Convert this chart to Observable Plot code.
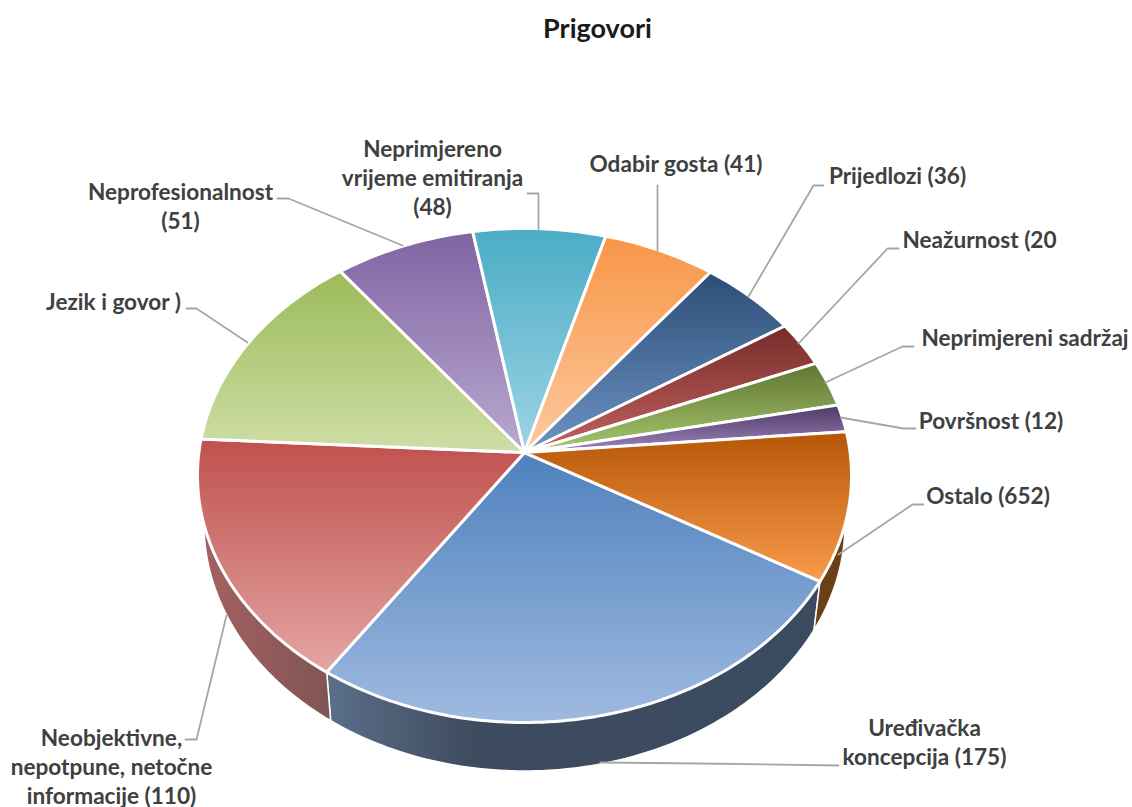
<!DOCTYPE html>
<html><head><meta charset="utf-8">
<script src="https://cdn.jsdelivr.net/npm/d3@7"></script>
<script src="https://cdn.jsdelivr.net/npm/@observablehq/plot@0.6"></script>
<style>
html,body{margin:0;padding:0;background:#fff}
#title{position:absolute;left:0;top:0;width:1195px;height:60px;text-align:center;font:700 27px/55px Lato,sans-serif;color:#1a1a1a}
#chart{position:absolute;left:0;top:60px}
svg{display:block}
</style></head><body>
<div id="title">Prigovori</div>
<div id="chart"></div>
<script>
const categories = ["Uređivačka koncepcija","Neobjektivne, nepotpune, netočne informacije","Jezik i govor","Neprofesionalnost","Neprimjereno vrijeme emitiranja","Odabir gosta","Prijedlozi","Neažurnost","Neprimjereni sadržaj","Površnost","Ostalo"];
const values = [175,110,92,51,48,41,36,20,20,12,65.2];
const topColors = ["#4f81bd","#c0504d","#9bbb59","#8064a2","#4bacc6","#f79646","#2c4d75","#772c2a","#5f7530","#4d3b62","#b65708"];
const bottomColors = ["#9fbae0","#e3a5a3","#cfdea6","#b9a9d0","#9ed4e4","#fdc99f","#6d94c6","#c2625f","#a8c870","#9e84c0","#f99b4b"];
const wallLeft = {"Uređivačka koncepcija":"#5b6f8a","Neobjektivne, nepotpune, netočne informacije":"#a86161","Ostalo":"#6b3f17"};
const wallRight = {"Uređivačka koncepcija":"#3a4b60","Neobjektivne, nepotpune, netočne informacije":"#7f5554","Ostalo":"#6b3f17"};
const labelTexts = ["Uređivačka\nkoncepcija (175)","Neobjektivne,\nnepotpune, netočne\ninformacije (110)","Jezik i govor )","Neprofesionalnost\n(51)","Neprimjereno\nvrijeme emitiranja\n(48)","Odabir gosta (41)","Prijedlozi (36)","Neažurnost (20","Neprimjereni sadržaj","Površnost (12)","Ostalo (652)"];
const labelX = [924,111,113,180,432,675.5,897,979,1024.5,990.5,987.5];
const labelY = [743,768,303,207,179,165,177,241,339,422,497];
const leaders = [
  [[838,765],[700,763],[600,762]],
  [[185,739],[196,739],[226,615]],
  [[186,308],[196,308],[247,342]],
  [[277,198],[288,198],[402,245]],
  [[527,193],[538,193],[538,229]],
  [[657,185],[657,250]],
  [[823,185],[813,185],[748,296]],
  [[898,248],[887,248],[798,343]],
  [[913,346],[902,346],[825,382]],
  [[915,428],[903,428],[840,417]],
  [[923,504],[912,504],[838,554]]
];

const W = 1132, H = 747, TOP = 60;
const cx = 524, cy = 452, rx = 325.6, ry = 244.9, k = -0.093, startDeg = 30.1;
const depth = 48.5, shrink = 0.98;
const project = deg => {
  const a = deg * Math.PI / 180, u = Math.cos(a), v = Math.sin(a), w = 1 / (1 + k * v);
  return [cx + rx * u * w, cy + ry * v * w];
};
const total = d3.sum(values);
let acc = startDeg;
const slices = categories.map((name, i) => {
  const a0 = acc, a1 = acc + values[i] / total * 360;
  acc = a1;
  const angles = d3.range(a0, a1, 1).concat([a1]);
  const arc = angles.map(project);
  return {name, i, a0, a1, arc};
});
const toPts = ps => ps.map(([x, y]) => ({x, y}));

const defs = () => {
  const d = d3.create("svg:defs");
  slices.forEach(s => {
    const g = d.append("linearGradient").attr("id", "top" + s.i).attr("x1", 0).attr("y1", 0).attr("x2", 0).attr("y2", 1);
    g.append("stop").attr("offset", 0).attr("stop-color", topColors[s.i]);
    g.append("stop").attr("offset", 1).attr("stop-color", bottomColors[s.i]);
    if (wallLeft[s.name]) {
      const h = d.append("linearGradient").attr("id", "wall" + s.i).attr("x1", 0).attr("y1", 0).attr("x2", 1).attr("y2", 0);
      h.append("stop").attr("offset", 0).attr("stop-color", wallLeft[s.name]);
      h.append("stop").attr("offset", s.i === 0 ? 0.3 : 1).attr("stop-color", s.i === 0 ? "#3e4b5e" : wallRight[s.name]);
      h.append("stop").attr("offset", 1).attr("stop-color", wallRight[s.name]);
    }
  });
  return d.node();
};

const wallMarks = slices.filter(s => wallLeft[s.name]).map(s => {
  const lower = s.arc.map(([x, y]) => [cx + (x - cx) * shrink, y + depth]).reverse();
  return Plot.line(toPts(s.arc.concat(lower)), {x: "x", y: "y", curve: "linear-closed", fill: `url(#wall${s.i})`, stroke: "white", strokeWidth: 1.5, strokeLinejoin: "round"});
});
const topMarks = slices.map(s =>
  Plot.line(toPts([[cx, cy], ...s.arc]), {x: "x", y: "y", curve: "linear-closed", fill: `url(#top${s.i})`, stroke: "white", strokeWidth: 3, strokeLinejoin: "round"})
);
const leaderMarks = leaders.map(l => Plot.line(toPts(l), {x: "x", y: "y", stroke: "#a6a6a6", strokeWidth: 1.8, curve: "linear"}));

const chart = Plot.plot({
  width: W, height: H, margin: 0,
  style: {background: "white", overflow: "visible"},
  x: {domain: [0, W], range: [0, W], axis: null},
  y: {domain: [TOP, TOP + H], range: [0, H], axis: null},
  marks: [
    defs,
    ...wallMarks,
    ...topMarks,
    ...leaderMarks,
    Plot.text(labelTexts.map((t, i) => ({t, x: labelX[i], y: labelY[i]})), {
      x: "x", y: "y", text: "t", textAnchor: "middle", lineAnchor: "middle", lineHeight: 1.27, dy: -2.5,
      fontFamily: "Lato, sans-serif", fontWeight: 700, fontSize: 22.6, fill: "#404040"
    })
  ]
});
document.getElementById("chart").appendChild(chart);
</script>
</body></html>
